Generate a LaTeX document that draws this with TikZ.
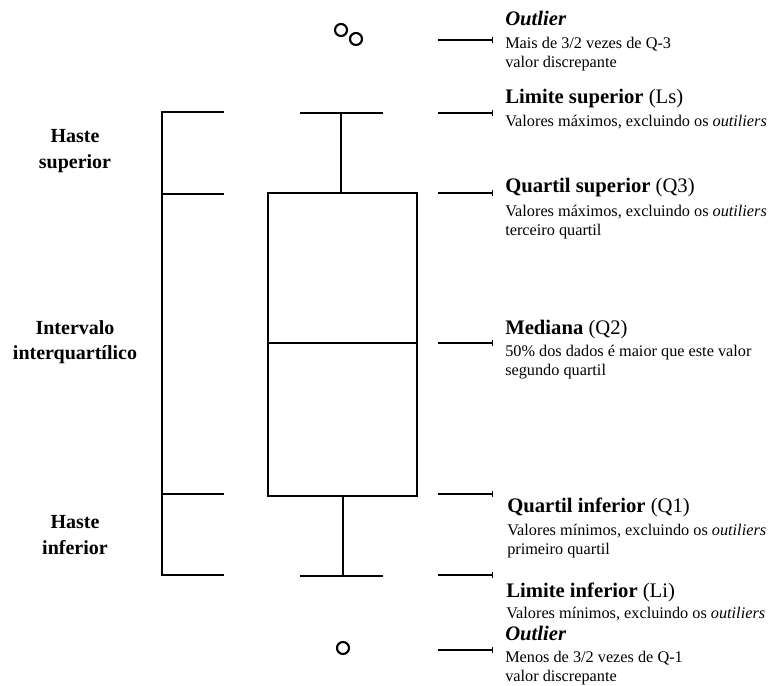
\documentclass[tikz,border=0pt]{standalone}
\usepackage{fontspec}
\setmainfont{Liberation Serif}
\usetikzlibrary{positioning,arrows.meta}
\tikzset{
  boxline/.style={line width=0.9pt},
  callout/.style={line width=0.8pt,-{Bar[width=4pt,line width=0.6pt]}},
  head/.style={anchor=base west,inner sep=0pt,font=\fontsize{15.5}{18}\selectfont},
  desc/.style={anchor=north west,inner sep=0pt,align=left,font=\fontsize{12.2}{14.2}\selectfont},
  side/.style={inner sep=0pt,align=center,font=\fontsize{15}{19}\selectfont\bfseries},
  outlier/.style={line width=1.6pt,draw,circle,minimum size=9pt,inner sep=0pt}
}
\begin{document}
\begin{tikzpicture}[x=0.75pt,y=-0.75pt]
\useasboundingbox (0,0) rectangle (769,686);
% Left bracket
\draw[boxline] (224,112) -- (162,112) -- (162,575) -- (224,575);
\draw[boxline] (162,194) -- (224,194);
\draw[boxline] (162,494) -- (224,494);
\node[side] (hsup) at (75,151) {Haste\\superior};
\node[side] (iiq) at (75,342) {Intervalo\\interquartílico};
\node[side] (hinf) at (75,535) {Haste\\inferior};
% Box and whiskers
\coordinate (ls) at (341,113);
\coordinate (li) at (343,576);
\draw[boxline] (268,193) rectangle (417,496);
\draw[boxline] (268,343) -- (417,343);
\draw[boxline] (ls) -- (341,193);
\draw[boxline] (300,113) -- (383,113);
\draw[boxline] (li) -- (343,496);
\draw[boxline] (300,576) -- (383,576);
% Outliers
\node[outlier] (o1) at (341,30) {};
\node[outlier] (o2) at (356,39) {};
\node[outlier] (o3) at (343,648) {};
% Callouts
\foreach \y/\n in {40/c1,113/c2,193/c3,343/c4,494/c5,575/c6,650/c7}{
  \coordinate (\n) at (438,\y);
  \draw[callout] (\n) -- ++(55,0);
}
% Labels
\node[head] (tout) at (505,25) {\textbf{\textit{Outlier}}};
\node[desc] (dout) at (505,37) {Mais de 3/2 vezes de Q-3\\valor discrepante};
\node[head] (tls) at (505,103) {\textbf{Limite superior} (Ls)};
\node[desc] (dls) at (505,115) {Valores máximos, excluindo os \textit{outiliers}};
\node[head] (tq3) at (505,192) {\textbf{Quartil superior} (Q3)};
\node[desc] (dq3) at (505,205) {Valores máximos, excluindo os \textit{outiliers}\\terceiro quartil};
\node[head] (tq2) at (505,334) {\textbf{Mediana} (Q2)};
\node[desc] (dq2) at (505,345) {50\% dos dados é maior que este valor\\segundo quartil};
\node[head] (tq1) at (507,512) {\textbf{Quartil inferior} (Q1)};
\node[desc] (dq1) at (507,524) {Valores mínimos, excluindo os \textit{outiliers}\\primeiro quartil};
\node[head] (tli) at (506,597) {\textbf{Limite inferior} (Li)};
\node[desc] (dli) at (506,607) {Valores mínimos, excluindo os \textit{outiliers}};
\node[head] (tout2) at (505,640) {\textbf{\textit{Outlier}}};
\node[desc] (dout2) at (505,651) {Menos de 3/2 vezes de Q-1\\valor discrepante};
\end{tikzpicture}
\end{document}
